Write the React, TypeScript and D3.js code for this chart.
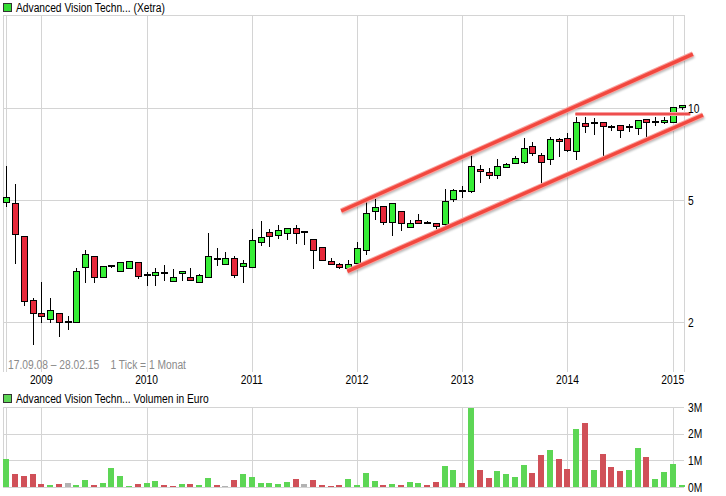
import React from 'react';
import * as d3 from 'd3';

// Monthly candles, Sep 2008 .. Feb 2015
const startMonth = new Date(2008, 8, 1);
const endMonth = new Date(2015, 2, 1);
const months = d3.timeMonth.range(startMonth, endMonth);

const opens = [4.96,4.90,3.84,2.36,2.14,2.05,2.14,2.01,2.00,3.03, 3.29,2.81,3.06,2.94,3.01,3.14,2.85,2.86,2.90,2.73, 2.89,2.81,2.71,2.81,3.23,3.10,3.24,3.05,3.03,3.65, 3.94,3.85,3.91,4.08,3.93,3.74,3.52,3.17,3.09,3.00, 3.12,3.44,4.61,4.79,4.25,4.61,4.09,4.31,4.21,4.21, 4.18,5.05,5.35,5.36,6.32,6.18,6.04,6.42,6.61,6.66, 7.52,7.03,6.82,7.92,7.98,7.24,8.93,8.93,9.00,8.67, 8.80,8.67,8.61,9.21,9.00,9.00,9.00,10.08];
const highs = [6.48,5.66,3.84,2.40,2.71,2.40,2.14,2.10,3.01,3.45, 3.29,3.05,3.07,3.14,3.17,3.14,2.92,3.01,3.08,2.99, 2.94,3.01,2.87,3.92,3.50,3.40,3.29,3.20,4.03,4.29, 4.02,4.16,4.08,4.16,3.96,3.74,3.52,3.24,3.13,3.19, 3.66,4.96,5.06,4.79,4.90,4.61,4.31,4.52,4.29,4.21, 5.44,5.44,5.57,7.20,6.52,6.37,6.82,6.63,6.97,8.02, 7.74,7.13,8.04,8.02,8.29,9.39,9.35,9.28,9.00,8.82, 8.80,8.87,9.14,9.21,9.35,9.35,10.08,10.23];
const lows = [4.78,3.13,2.27,1.70,2.00,2.00,1.81,1.90,2.00,2.70, 2.70,2.81,3.04,2.94,3.01,2.80,2.64,2.64,2.74,2.73, 2.74,2.75,2.71,2.81,3.07,3.10,2.81,2.70,3.03,3.59, 3.54,3.76,3.735,3.64,3.60,3.01,3.19,3.10,3.00,3.00, 3.12,3.35,4.34,4.19,3.85,3.99,4.09,4.21,4.21,4.05, 4.08,4.97,5.13,5.32,5.74,5.91,5.91,6.42,6.61,6.61, 7.03,5.58,6.56,6.97,7.24,6.85,8.35,8.26,7.06,8.52, 8.08,8.43,8.23,7.90,8.80,8.93,9.00,9.93];
const closes = [5.13,3.88,2.35,2.14,2.10,2.19,2.00,2.01,2.94,3.34, 2.81,3.05,3.06,3.14,3.17,2.83,2.85,2.92,2.90,2.82, 2.94,2.75,2.85,3.29,3.23,3.24,2.85,3.12,3.71,3.80, 3.82,4.00,4.08,3.91,3.93,3.44,3.19,3.10,3.03,3.10, 3.49,4.54,4.75,4.25,4.90,4.21,4.21,4.21,4.21,4.12, 4.97,5.40,5.35,6.47,6.23,6.04,6.47,6.56,6.87,7.41, 7.13,6.66,7.92,7.80,7.29,9.00,8.77,8.93,8.77,8.67, 8.48,8.67,9.14,9.00,9.00,9.14,10.08,10.23];

// Volume in million Euro
const volumes = [1.05,0.49,0.41,0.49,0.11,0.08,0.11,0.15,0.08,0.26, 0.08,0.15,0.71,0.41,0.04,0.11,0.15,0.23,0.08,0.04, 0.11,0.11,0.08,0.34,0.08,0.04,0.26,0.49,0.38,0.15, 0.15,0.11,0.19,0.30,0.11,0.26,0.08,0.04,0.08,0.30, 0.08,0.53,0.23,0.08,0.11,0.08,0.19,0.15,0.08,0.19, 0.79,0.64,0.15,2.97,0.64,0.34,0.60,0.49,0.38,0.83, 0.53,1.20,1.39,1.05,0.68,2.18,2.41,0.64,1.24,0.75, 0.60,0.64,1.47,1.13,0.30,0.56,0.86,0.08];
const volumeDir = ['g','r','r','r','r','g','r','n','g','g', 'r','g','g','g','g','r','g','g','r','r', 'g','r','g','g','r','n','r','g','g','g', 'g','g','g','r','n','r','r','r','r','g', 'g','g','g','r','g','r','g','g','r','r', 'g','g','r','g','r','r','g','g','g','g', 'r','r','g','r','r','g','r','g','r','r', 'r','g','g','r','g','g','g','g'];

const priceTicks = [2, 5, 10];
const volumeTicks = [0, 1, 2, 3];
const volumeTickLabels = ['0M', '1M', '2M', '3M'];
const years = [2009, 2010, 2011, 2012, 2013, 2014, 2015];

// Trend annotations (month index, price)
const upperChannel = [[38.2, 4.62], [78.3, 15.04]];
const lowerChannel = [[38.9, 2.935], [79.45, 9.51]];
const resistance = [[64.9, 9.58], [78.0, 9.58]];

const titleText = 'Advanced Vision Techn... (Xetra)';
const volumeTitle = 'Advanced Vision Techn... Volumen in Euro';
const rangeText = '17.09.08 \u2013 28.02.15    1 Tick = 1 Monat';

const FONT = '"Liberation Sans", Arial, sans-serif';
const GRID = '#d4d4d4';
const C_UP = '#36ee36';
const C_DOWN = '#e6283a';
const V_UP = '#5dd655';
const V_DOWN = '#d05058';
const V_NEUTRAL = '#b3b3b3';

function NText(props: { x: number; y: number; children: string; fill?: string; anchor?: string; size?: number }) {
  const { x, y, children, fill = '#000', anchor = 'start', size = 12.5 } = props;
  return (
    <text
      transform={`translate(${x},${y}) scale(0.82,1)`}
      fontSize={size}
      fill={fill}
      textAnchor={anchor}
      xmlSpace="preserve"
      style={{ whiteSpace: 'pre' }}
    >
      {children}
    </text>
  );
}

export default function App() {
  const n = opens.length;
  const x = d3.scaleLinear().domain([0, n - 1]).range([6.2, 681.5]);
  const y = d3.scaleLog().domain([2, 10]).range([322.3, 108.3]);
  const v = d3.scaleLinear().domain([0, 3]).range([487, 407]);

  const L = 3, R = 684, PT = 15, PB = 372, VT = 407, VB = 487;
  const px = (i: number) => Math.round(x(i));
  const yearIdx = years.map((yr) => months.findIndex((m) => m.getFullYear() === yr && m.getMonth() === 0));
  const vLines = [0, ...yearIdx].map((i) => px(i) + 0.5);

  const line = d3.line<number[]>().x((d) => x(d[0])).y((d) => y(d[1]));

  return (
    <svg width={726} height={496} style={{ position: 'absolute', left: 0, top: 0, background: '#fff', display: 'block' }} fontFamily={FONT}>
      <defs>
        <filter id="blur" x="-5%" y="-50%" width="110%" height="200%">
          <feGaussianBlur stdDeviation="1.3" />
        </filter>
      </defs>
      <rect x={0} y={0} width={726} height={496} fill="#fff" />

      {/* price panel grid */}
      <g stroke={GRID} strokeWidth={1} shapeRendering="crispEdges">
        <line x1={L + 0.5} x2={L + 0.5} y1={PT} y2={PB} />
        <line x1={R + 0.5} x2={R + 0.5} y1={PT} y2={PB} />
        <line x1={L} x2={R + 1} y1={PT + 0.5} y2={PT + 0.5} />
        {vLines.map((lx, k) => <line key={k} x1={lx} x2={lx} y1={PT} y2={PB} />)}
        {priceTicks.map((t) => <line key={t} x1={L} x2={R} y1={Math.round(y(t)) + 0.5} y2={Math.round(y(t)) + 0.5} />)}
      </g>

      {/* volume panel grid */}
      <g stroke={GRID} strokeWidth={1} shapeRendering="crispEdges">
        <line x1={L + 0.5} x2={L + 0.5} y1={VT} y2={VB} />
        {vLines.map((lx, k) => <line key={k} x1={lx} x2={lx} y1={VT} y2={VB} />)}
        {volumeTicks.map((t) => <line key={t} x1={L} x2={R} y1={Math.round(v(t)) + 0.5} y2={Math.round(v(t)) + 0.5} />)}
      </g>

      {/* candles */}
      <g shapeRendering="crispEdges">
        {opens.map((o, i) => {
          const c = closes[i];
          const cx = px(i);
          const yh = Math.round(y(highs[i]));
          const yl = Math.round(y(lows[i]));
          const yTop = Math.round(y(Math.max(o, c)));
          const yBot = Math.round(y(Math.min(o, c)));
          const flat = yBot - yTop < 1;
          const fill = c > o ? C_UP : C_DOWN;
          return (
            <g key={i}>
              <line x1={cx + 0.5} x2={cx + 0.5} y1={yh} y2={yl + 1} stroke="#000" strokeWidth={1} />
              {flat ? (
                <rect x={cx - 3} y={yTop - 1} width={7} height={2} fill="#000" />
              ) : (
                <rect x={cx - 2.5} y={yTop + 0.5} width={6} height={yBot - yTop} fill={fill} stroke="#000" strokeWidth={1} />
              )}
            </g>
          );
        })}
      </g>

      {/* trend lines */}
      <g fill="none" strokeLinecap="butt">
        {[upperChannel, lowerChannel].map((d, k) => (
          <g key={k}>
            <path d={line(d) || ''} stroke="#000" strokeOpacity={0.28} strokeWidth={4} transform="translate(1,2)" filter="url(#blur)" />
            <path d={line(d) || ''} stroke="#f9a3a0" strokeWidth={5.5} />
            <path d={line(d) || ''} stroke="#f2483f" strokeWidth={3.5} />
          </g>
        ))}
        <path d={line(resistance) || ''} stroke="#000" strokeOpacity={0.22} strokeWidth={3} transform="translate(1,2)" filter="url(#blur)" />
        <path d={line(resistance) || ''} stroke="#f7a0a0" strokeWidth={4} />
        <path d={line(resistance) || ''} stroke="#ee4e4e" strokeWidth={2.2} />
      </g>

      {/* volume bars */}
      <g shapeRendering="crispEdges">
        {volumes.map((val, i) => {
          const cx = px(i);
          const top = Math.round(v(val));
          const col = volumeDir[i] === 'g' ? V_UP : volumeDir[i] === 'r' ? V_DOWN : V_NEUTRAL;
          return <rect key={i} x={cx - 3} y={top} width={6} height={VB - top} fill={col} />;
        })}
      </g>

      {/* axis labels */}
      {priceTicks.map((t) => (
        <NText key={'p' + t} x={688} y={y(t) + 4.5}>{String(t)}</NText>
      ))}
      {volumeTicks.map((t, k) => (
        <NText key={'v' + t} x={688} y={v(t) + 4.5}>{volumeTickLabels[k]}</NText>
      ))}
      {years.map((yr, k) => (
        <NText key={'y' + yr} x={x(yearIdx[k])} y={384} anchor="middle">{String(yr)}</NText>
      ))}

      <NText x={8} y={369} fill="#8a8a8a">{rangeText}</NText>

      {/* legends */}
      <rect x={3.5} y={3.5} width={8} height={8} fill="#33dd33" stroke="#333" strokeWidth={1} shapeRendering="crispEdges" />
      <NText x={16} y={12}>{titleText}</NText>
      <rect x={3.5} y={394.5} width={8} height={8} fill={V_UP} stroke="#333" strokeWidth={1} shapeRendering="crispEdges" />
      <NText x={16} y={403}>{volumeTitle}</NText>
    </svg>
  );
}
